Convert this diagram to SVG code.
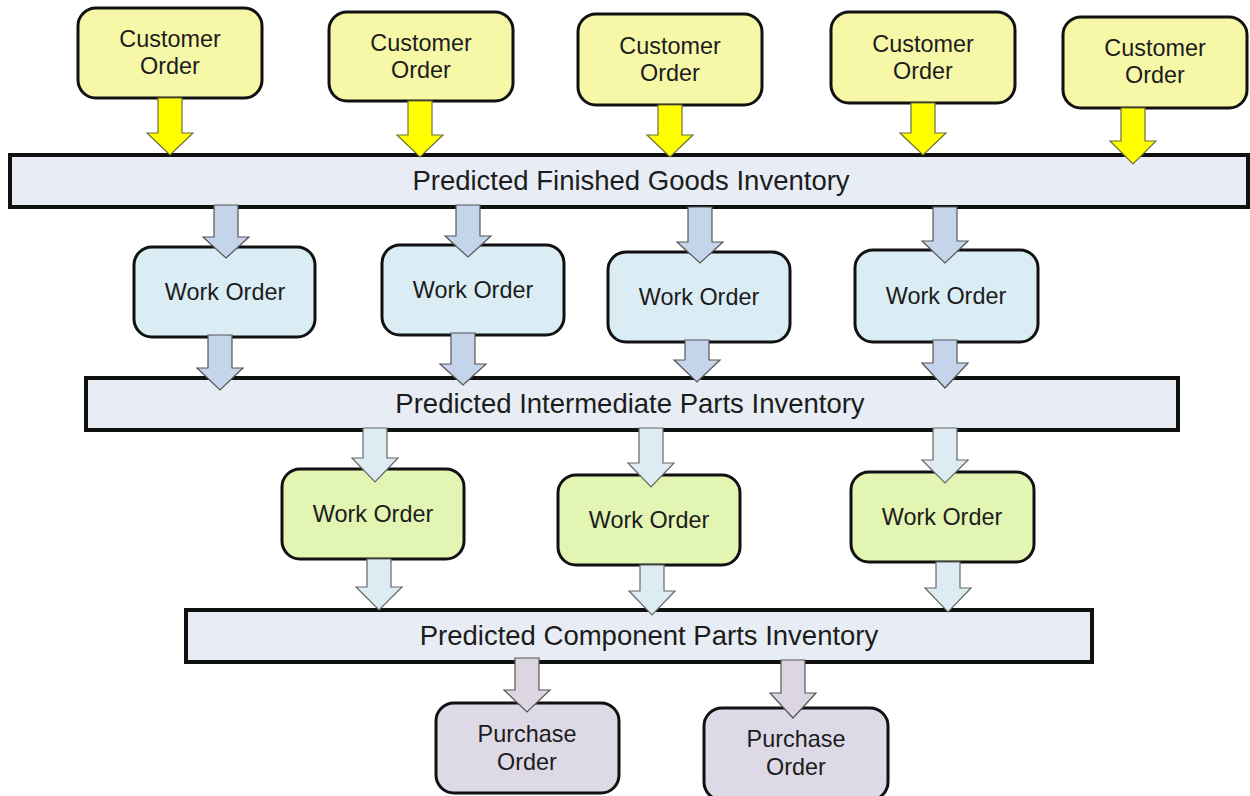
<svg xmlns="http://www.w3.org/2000/svg" width="1250" height="796" viewBox="0 0 1250 796">
<style>
text{font-family:"Liberation Sans",Arial,sans-serif;fill:#1c1c1c;text-anchor:middle}
.lbl{font-size:23.4px}
.bar-t{font-size:27.5px}
.box{stroke:#111;stroke-width:3}
.bar{fill:#e8ecf4;stroke:#111;stroke-width:4}
.co{fill:#f6f8a8}
.wo1{fill:#dbedf4}
.wo2{fill:#e3f5b2}
.po{fill:#ddd9e6}
.ay{fill:#ffff00;stroke:#6f6f3a;stroke-width:1.2}
.ab{fill:#c4d4ea;stroke:#555;stroke-width:1.2}
.ac{fill:#dcecf2;stroke:#666;stroke-width:1.2}
.ap{fill:#dcd6e2;stroke:#555;stroke-width:1.2}
</style>
<rect width="1250" height="796" fill="#ffffff"/>

<g id="bar-finished">
<rect class="bar" x="10" y="155" width="1238" height="52"/>
<text class="bar-t" x="631" y="190">Predicted Finished Goods Inventory</text>
</g>
<g id="bar-intermediate">
<rect class="bar" x="86" y="378" width="1092" height="52"/>
<text class="bar-t" x="630" y="413">Predicted Intermediate Parts Inventory</text>
</g>
<g id="bar-component">
<rect class="bar" x="186" y="610" width="906" height="52"/>
<text class="bar-t" x="649" y="645">Predicted Component Parts Inventory</text>
</g>

<g id="co1"><rect class="box co" x="78" y="8" width="184" height="90" rx="18"/><text class="lbl" x="170" y="47">Customer</text><text class="lbl" x="170" y="74">Order</text></g>
<g id="co2"><rect class="box co" x="329" y="12" width="184" height="89" rx="18"/><text class="lbl" x="421" y="51">Customer</text><text class="lbl" x="421" y="78">Order</text></g>
<g id="co3"><rect class="box co" x="578" y="14" width="184" height="91" rx="18"/><text class="lbl" x="670" y="54">Customer</text><text class="lbl" x="670" y="81">Order</text></g>
<g id="co4"><rect class="box co" x="831" y="12" width="184" height="91" rx="18"/><text class="lbl" x="923" y="52">Customer</text><text class="lbl" x="923" y="79">Order</text></g>
<g id="co5"><rect class="box co" x="1063" y="17" width="184" height="91" rx="18"/><text class="lbl" x="1155" y="56">Customer</text><text class="lbl" x="1155" y="83">Order</text></g>

<g id="wo1"><rect class="box wo1" x="134" y="247" width="181" height="90" rx="18"/><text class="lbl" x="225" y="300">Work Order</text></g>
<g id="wo2"><rect class="box wo1" x="382" y="245" width="182" height="90" rx="18"/><text class="lbl" x="473" y="298">Work Order</text></g>
<g id="wo3"><rect class="box wo1" x="608" y="252" width="182" height="90" rx="18"/><text class="lbl" x="699" y="305">Work Order</text></g>
<g id="wo4"><rect class="box wo1" x="855" y="250" width="183" height="92" rx="18"/><text class="lbl" x="946" y="304">Work Order</text></g>

<g id="wo5"><rect class="box wo2" x="282" y="469" width="182" height="90" rx="18"/><text class="lbl" x="373" y="522">Work Order</text></g>
<g id="wo6"><rect class="box wo2" x="558" y="475" width="182" height="90" rx="18"/><text class="lbl" x="649" y="528">Work Order</text></g>
<g id="wo7"><rect class="box wo2" x="851" y="472" width="183" height="90" rx="18"/><text class="lbl" x="942" y="525">Work Order</text></g>

<g id="po1"><rect class="box po" x="436" y="703" width="183" height="90" rx="18"/><text class="lbl" x="527" y="742">Purchase</text><text class="lbl" x="527" y="770">Order</text></g>
<g id="po2"><rect class="box po" x="704" y="708" width="184" height="92" rx="18"/><text class="lbl" x="796" y="747">Purchase</text><text class="lbl" x="796" y="775">Order</text></g>

<g id="connectors">
<path class="ay" d="M158,98 L182,98 L182,133 L193,133 L170,155 L147,133 L158,133 Z"/>
<path class="ay" d="M408,101 L432,101 L432,135 L443,135 L420,157 L397,135 L408,135 Z"/>
<path class="ay" d="M658,105 L682,105 L682,135 L693,135 L670,157 L647,135 L658,135 Z"/>
<path class="ay" d="M911,103 L935,103 L935,133 L946,133 L923,155 L900,133 L911,133 Z"/>
<path class="ay" d="M1121,108 L1145,108 L1145,141 L1156,141 L1133,164 L1110,141 L1121,141 Z"/>

<path class="ab" d="M214,205 L238,205 L238,237 L249,237 L226,258 L203,237 L214,237 Z"/>
<path class="ab" d="M456,205 L480,205 L480,236 L491,236 L468,257 L445,236 L456,236 Z"/>
<path class="ab" d="M688,207 L712,207 L712,242 L723,242 L700,263 L677,242 L688,242 Z"/>
<path class="ab" d="M933,207 L957,207 L957,241 L968,241 L945,263 L922,241 L933,241 Z"/>

<path class="ab" d="M208,335 L232,335 L232,368 L243,368 L220,390 L197,368 L208,368 Z"/>
<path class="ab" d="M451,333 L475,333 L475,364 L486,364 L463,385 L440,364 L451,364 Z"/>
<path class="ab" d="M685,340 L709,340 L709,360 L720,360 L697,382 L674,360 L685,360 Z"/>
<path class="ab" d="M933,340 L957,340 L957,363 L968,363 L945,388 L922,363 L933,363 Z"/>

<path class="ac" d="M363,428 L387,428 L387,458 L398,458 L375,482 L352,458 L363,458 Z"/>
<path class="ac" d="M639,428 L663,428 L663,463 L674,463 L651,487 L628,463 L639,463 Z"/>
<path class="ac" d="M933,428 L957,428 L957,460 L968,460 L945,483 L922,460 L933,460 Z"/>

<path class="ac" d="M367,559 L391,559 L391,587 L402,587 L379,610 L356,587 L367,587 Z"/>
<path class="ac" d="M640,565 L664,565 L664,591 L675,591 L652,615 L629,591 L640,591 Z"/>
<path class="ac" d="M936,562 L960,562 L960,588 L971,588 L948,612 L925,588 L936,588 Z"/>

<path class="ap" d="M515,658 L539,658 L539,690 L550,690 L527,712 L504,690 L515,690 Z"/>
<path class="ap" d="M781,660 L805,660 L805,693 L816,693 L793,718 L770,693 L781,693 Z"/>
</g>
</svg>
